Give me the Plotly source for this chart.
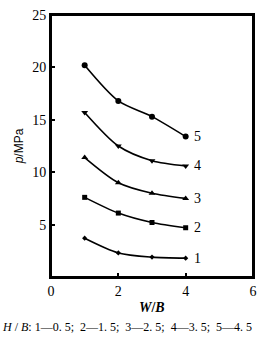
import plotly.graph_objects as go

wb = [1, 2, 3, 4]
s1 = [3.7, 2.3, 1.9, 1.8]
s2 = [7.6, 6.1, 5.2, 4.7]
s3 = [11.4, 9.0, 8.0, 7.5]
s4 = [15.7, 12.5, 11.1, 10.6]
s5 = [20.2, 16.8, 15.3, 13.4]
series = [("1", s1, "diamond", 4), ("2", s2, "square", 5), ("3", s3, "triangle-up", 6),
          ("4", s4, "triangle-down", 6), ("5", s5, "circle", 6)]
xticks = [0, 2, 4, 6]
yticks = [5, 10, 15, 20, 25]

FONT = "Liberation Serif"
fig = go.Figure()
for name, ys, sym, sz in series:
    fig.add_trace(go.Scatter(x=wb, y=ys, mode="lines+markers",
                             line=dict(color="black", width=1.6, shape="spline", smoothing=0.8),
                             marker=dict(symbol=sym, size=sz, color="black"),
                             showlegend=False))
    fig.add_annotation(x=wb[-1], y=ys[-1], text=name, showarrow=False,
                       xanchor="left", xshift=6, font=dict(family=FONT, size=14, color="black"))

fig.add_annotation(x=0.5, y=0, xref="paper", yref="paper", yshift=-30, showarrow=False,
                   text="<b><i>W</i>/<i>B</i></b>", font=dict(family=FONT, size=14, color="black"),
                   xanchor="center", yanchor="middle")
fig.add_annotation(x=0, y=0, xref="paper", yref="paper", yshift=-50, xshift=-51, showarrow=False,
                   text="<i>H</i> / <i>B</i>: 1—0. 5;  2—1. 5;  3—2. 5;  4—3. 5;  5—4. 5",
                   font=dict(family=FONT, size=12, color="black"),
                   xanchor="left", yanchor="middle")
fig.add_shape(type="rect", xref="paper", yref="paper", x0=0, y0=0, x1=1, y1=1,
              line=dict(color="black", width=2), fillcolor="rgba(0,0,0,0)", opacity=1, layer="above")

fig.update_layout(
    template="none",
    width=264, height=353, margin=dict(l=51, r=11, t=15, b=76),
    paper_bgcolor="white", plot_bgcolor="white",
    font=dict(family=FONT, size=14, color="black"),
    xaxis=dict(range=[0, 6], tickvals=xticks, ticks="inside", ticklen=4, tickcolor="black", tickwidth=1.5,
               showline=True, linecolor="black", linewidth=2, mirror=True,
               showgrid=False, zeroline=False, tickfont=dict(family=FONT, size=14, color="black")),
    yaxis=dict(range=[0, 25], tickvals=yticks, ticks="inside", ticklen=4, tickcolor="black", tickwidth=1.5,
               showline=True, linecolor="black", linewidth=2, mirror=True,
               showgrid=False, zeroline=False, tickfont=dict(family=FONT, size=14, color="black"),
               title=dict(text="<i>p</i>/MPa", font=dict(family="Liberation Sans", size=12, color="black"), standoff=6)),
)
fig.write_html("out.html")
